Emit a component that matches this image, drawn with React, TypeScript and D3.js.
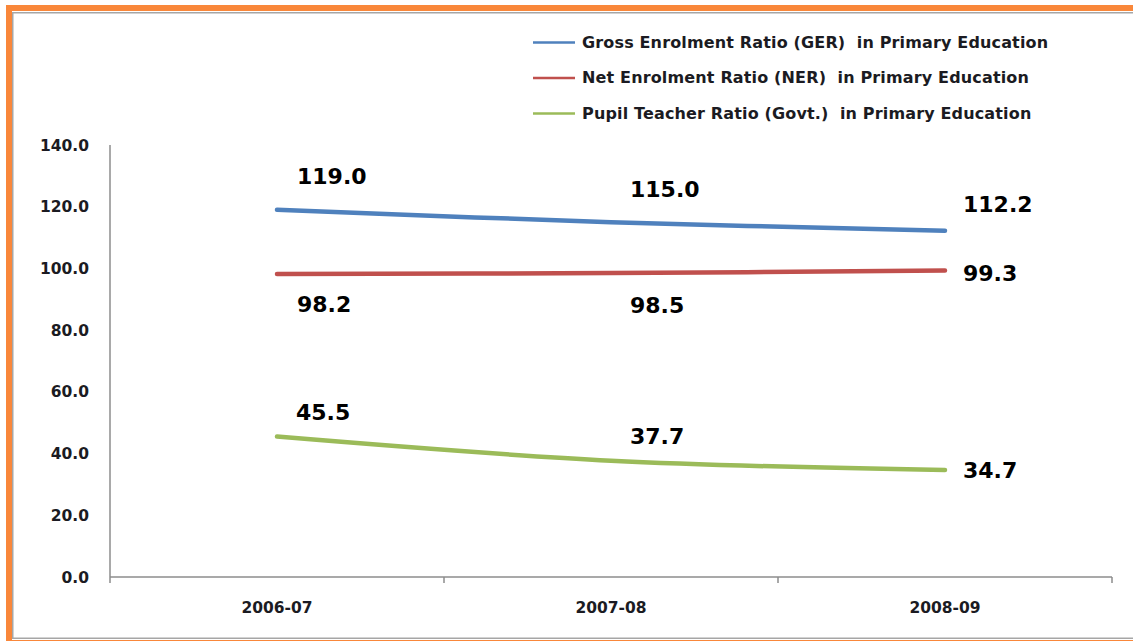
import React from 'react';
import * as d3 from 'd3';

const years = ['2006-07', '2007-08', '2008-09'];
const gerValues = [119.0, 115.0, 112.2];
const nerValues = [98.2, 98.5, 99.3];
const ptrValues = [45.5, 37.7, 34.7];
const seriesNames = [
  'Gross Enrolment Ratio (GER)  in Primary Education',
  'Net Enrolment Ratio (NER)  in Primary Education',
  'Pupil Teacher Ratio (Govt.)  in Primary Education',
];
const yTicks = [0, 20, 40, 60, 80, 100, 120, 140];

const colors = ['#4F81BD', '#C0504D', '#9BBB59'];
// label placement relative to each point: [dx, baseline dy]
const labelOffsets = [
  [[20, -26], [19, -25], [18, -19]],
  [[20, 38], [19, 40], [18, 10]],
  [[19, -17], [19, -17], [18, 8]],
];

const App: React.FC = () => {
  const width = 1133;
  const height = 641;
  const plot = { left: 110, right: 1112, top: 145, bottom: 577 };

  const xScale = d3.scaleBand<string>().domain(years).range([plot.left, plot.right]);
  const yScale = d3.scaleLinear().domain([0, 140]).range([plot.bottom, plot.top]);
  const cx = (d: string) => (xScale(d) || 0) + xScale.bandwidth() / 2;

  const series = [gerValues, nerValues, ptrValues];
  const line = d3.line<number>()
    .x((_, i) => cx(years[i]))
    .y(d => yScale(d))
    .curve(d3.curveCatmullRom);

  const font = '"DejaVu Sans", Verdana, sans-serif';
  const textColor = '#1b1b22';
  const axisColor = '#8c8c8c';

  return (
    <svg width={width} height={height} style={{ position: 'absolute', left: 0, top: 0 }} fontFamily={font}>
      <rect x={0} y={0} width={width} height={height} fill="#fff" />
      {/* frame */}
      <rect x={9} y={8} width={1140} height={635} fill="none" stroke="#F9873A" strokeWidth={6} />
      <rect x={12.75} y={12.75} width={1140} height={625.5} fill="none" stroke="#a6a6a6" strokeWidth={1.5} />

      {/* legend */}
      {seriesNames.map((name, i) => (
        <g key={name} transform={`translate(533,${42.5 + i * 35.5})`}>
          <line x1={0} x2={42} y1={0} y2={0} stroke={colors[i]} strokeWidth={2.5} />
          <text x={49} y={5} fontSize={16} fontWeight="bold" fill={textColor} letterSpacing={0.15} style={{ whiteSpace: 'pre' }}>
            {name}
          </text>
        </g>
      ))}

      {/* axes */}
      <line x1={plot.left} x2={plot.left} y1={plot.top} y2={plot.bottom} stroke={axisColor} strokeWidth={1.5} />
      <line x1={plot.left} x2={plot.right} y1={plot.bottom} y2={plot.bottom} stroke={axisColor} strokeWidth={1.5} />
      {[...years.map(y => xScale(y) || 0), plot.right].map((x, i) => (
        <line key={i} x1={x} x2={x} y1={plot.bottom} y2={plot.bottom + 6} stroke={axisColor} strokeWidth={1.5} />
      ))}
      {yTicks.map(t => (
        <text key={t} x={89} y={yScale(t)} dy="0.36em" textAnchor="end" fontSize={15.5} fontWeight="bold" fill={textColor}>
          {t.toFixed(1)}
        </text>
      ))}
      {years.map(y => (
        <text key={y} x={cx(y)} y={613} textAnchor="middle" fontSize={15.5} fontWeight="bold" fill={textColor}>
          {y}
        </text>
      ))}

      {/* series */}
      {series.map((vals, s) => (
        <g key={s}>
          <path d={line(vals) || undefined} fill="none" stroke={colors[s]} strokeWidth={4.5} strokeLinecap="round" />
          {vals.map((v, i) => (
            <text
              key={i}
              x={cx(years[i]) + labelOffsets[s][i][0]}
              y={yScale(v) + labelOffsets[s][i][1]}
              fontSize={22}
              fontWeight="bold"
              fill="#000"
            >
              {v.toFixed(1)}
            </text>
          ))}
        </g>
      ))}
    </svg>
  );
};

export default App;
